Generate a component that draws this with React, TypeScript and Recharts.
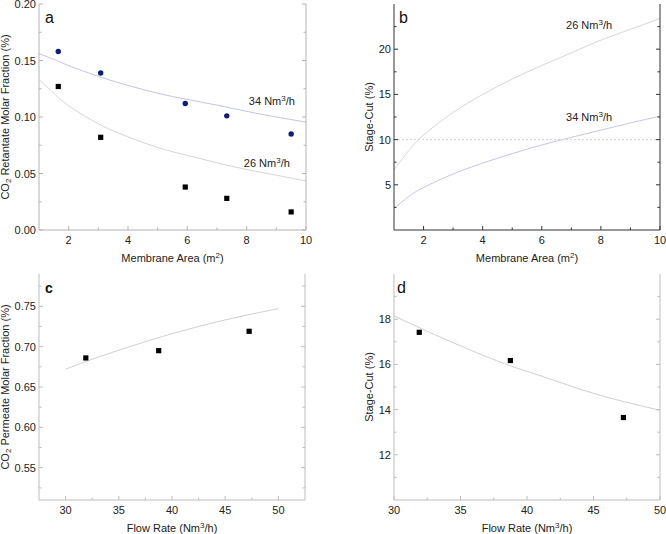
import React from 'react';
import { ComposedChart, Line, Scatter, XAxis, YAxis, ReferenceLine, ReferenceDot } from 'recharts';

const FONT = '"Liberation Sans", Arial, Helvetica, sans-serif';

// Panel a: CO2 retentate molar fraction vs membrane area
const areaMeasured = [1.65, 3.08, 5.93, 7.33, 9.5];
const retentate34 = [0.158, 0.139, 0.112, 0.101, 0.085];
const retentate26 = [0.127, 0.082, 0.038, 0.028, 0.016];
const areaModel = [1, 1.5, 2, 3, 4, 5, 6, 7, 8, 9, 10];
const retentateModel34 = [0.156, 0.151, 0.1455, 0.136, 0.128, 0.121, 0.1155, 0.1105, 0.105, 0.1, 0.0955];
const retentateModel26 = [0.133, 0.121, 0.11, 0.094, 0.0825, 0.073, 0.066, 0.0595, 0.0535, 0.0485, 0.0435];

// Panel b: stage-cut vs membrane area
const stageCutModel26 = [6.64, 8.8, 10.5, 13.0, 15.0, 16.7, 18.2, 19.6, 21.0, 22.2, 23.4];
const stageCutModel34 = [2.4, 3.7, 4.7, 6.2, 7.4, 8.45, 9.4, 10.25, 11.05, 11.85, 12.6];

// Panels c and d: flow rate dependence
const flowMeasured = [31.9, 38.75, 47.25];
const permeateMeasured = [0.686, 0.695, 0.719];
const stageCutMeasured = [17.42, 16.17, 13.65];
const flowModel = [30, 32, 35, 38, 40, 42, 45, 48, 50];
const permeateModel = [0.672, 0.682, 0.6956, 0.7082, 0.716, 0.7232, 0.7331, 0.7418, 0.747];
const stageCutFlowModel = [18.15, 17.6, 16.82, 16.1, 15.69, 15.3, 14.72, 14.25, 13.97];

// Tick values
const areaTicks = [2, 4, 6, 8, 10];
const areaMinor = [3, 5, 7, 9];
const flowTicks = [30, 35, 40, 45, 50];
const flowMinor = [32.5, 37.5, 42.5, 47.5];
const retentateTicks = [0, 0.05, 0.1, 0.15, 0.2];
const retentateMinor = [0.025, 0.075, 0.125, 0.175];
const stageCutTicks = [5, 10, 15, 20];
const stageCutMinor = [2.5, 7.5, 12.5, 17.5, 22.5];
const permeateTicks = [0.55, 0.6, 0.65, 0.7, 0.75];
const permeateMinor = [0.525, 0.575, 0.625, 0.675, 0.725, 0.775];
const stageCutFlowTicks = [12, 14, 16, 18];
const stageCutFlowMinor = [11, 13, 15, 17, 19];

const zip = (xs: number[], ys: number[]) => xs.map((x, i) => ({ x, y: ys[i] }));

type Side = 'bottom' | 'top' | 'left' | 'right';

const isIn = (list: number[], v: number) => list.some((m) => Math.abs(m - v) < 1e-9);

const makeTick = (side: Side, majors: number[], fmt: (v: number) => string, color: string) =>
  (props: any) => {
    const { x, y, payload } = props;
    const v = payload.value as number;
    const major = isIn(majors, v);
    const len = major ? 4 : 2.5;
    let line;
    let label = null;
    if (side === 'bottom') {
      line = <line x1={x} x2={x} y1={y} y2={y - len} stroke={color} />;
      if (major)
        label = (
          <text x={x} y={y + 14} textAnchor="middle" fontSize={11} fill="#222" fontFamily={FONT}>
            {fmt(v)}
          </text>
        );
    } else if (side === 'top') {
      line = <line x1={x} x2={x} y1={y} y2={y + len} stroke={color} />;
    } else if (side === 'left') {
      line = <line x1={x} x2={x + len} y1={y} y2={y} stroke={color} />;
      if (major)
        label = (
          <text x={x - 3} y={y + 4} textAnchor="end" fontSize={11} fill="#222" fontFamily={FONT}>
            {fmt(v)}
          </text>
        );
    } else {
      line = <line x1={x} x2={x - len} y1={y} y2={y} stroke={color} />;
    }
    return (
      <g>
        {line}
        {label}
      </g>
    );
  };

const rateText = (x: number, y: number, rate: string) => (
  <text x={x} y={y + 4} textAnchor="middle" fontSize={11} fill="#222" fontFamily={FONT}>
    {rate} Nm
    <tspan dy={-4} fontSize={8}>3</tspan>
    <tspan dy={4}>/h</tspan>
  </text>
);

const circleShape = (p: any) => <circle cx={p.cx} cy={p.cy} r={2.7} fill="#0b1d7e" />;
const squareShape = (p: any) => <rect x={p.cx - 2.6} y={p.cy - 2.6} width={5.2} height={5.2} fill="#000" />;

type Curve = { data: { x: number; y: number }[]; color: string };
type Points = { data: { x: number; y: number }[]; shape: (p: any) => React.ReactElement };
type Note = { x: number; y: number; rate: string };

type PanelProps = {
  left: number;
  top: number;
  width: number;
  height: number;
  yAxisWidth: number;
  rightWidth: number;
  xAxisHeight: number;
  xDomain: [number, number];
  xMajor: number[];
  xMinor: number[];
  yDomain: [number, number];
  yMajor: number[];
  yMinor: number[];
  yFmt: (v: number) => string;
  axisColor: string;
  topColor: string;
  curves: Curve[];
  points: Points[];
  notes: Note[];
  letter: string;
  letterDx: number;
  letterBold?: boolean;
  xTitle: React.ReactNode;
  yTitle: React.ReactNode;
  yTitleX: number;
  refY?: number;
};

function Panel(p: PanelProps) {
  const xTicks = [...p.xMajor, ...p.xMinor].sort((a, b) => a - b);
  const yTicks = [...p.yMajor, ...p.yMinor].sort((a, b) => a - b);
  const fmtX = (v: number) => String(v);
  return (
    <div style={{ position: 'absolute', left: p.left, top: p.top }}>
      <ComposedChart
        width={p.width}
        height={p.height}
        margin={{ top: 4, right: 0, bottom: 0, left: 0 }}
        style={{ fontFamily: FONT }}
      >
        <XAxis
          xAxisId="main"
          type="number"
          dataKey="x"
          domain={p.xDomain}
          allowDataOverflow
          ticks={xTicks}
          interval={0}
          height={p.xAxisHeight}
          tickSize={0}
          tickMargin={0}
          axisLine={{ stroke: p.axisColor }}
          tickLine={false}
          tick={makeTick('bottom', p.xMajor, fmtX, p.axisColor)}
          label={(lp: any) => {
            const vb = lp.viewBox;
            return (
              <text
                x={vb.x + vb.width / 2}
                y={vb.y + 32}
                textAnchor="middle"
                fontSize={11}
                fill="#222"
                fontFamily={FONT}
              >
                {p.xTitle}
              </text>
            );
          }}
        />
        <XAxis
          xAxisId="top"
          orientation="top"
          type="number"
          dataKey="x"
          domain={p.xDomain}
          allowDataOverflow
          ticks={xTicks}
          interval={0}
          height={0}
          tickSize={0}
          tickMargin={0}
          axisLine={{ stroke: p.topColor }}
          tickLine={false}
          tick={makeTick('top', p.xMajor, fmtX, p.topColor)}
        />
        <YAxis
          yAxisId="main"
          type="number"
          domain={p.yDomain}
          allowDataOverflow
          ticks={yTicks}
          interval={0}
          width={p.yAxisWidth}
          tickSize={0}
          tickMargin={0}
          axisLine={{ stroke: p.axisColor }}
          tickLine={false}
          tick={makeTick('left', p.yMajor, p.yFmt, p.axisColor)}
          label={(lp: any) => {
            const vb = lp.viewBox;
            const cy = vb.y + vb.height / 2;
            return (
              <text
                x={p.yTitleX}
                y={cy}
                transform={`rotate(-90, ${p.yTitleX}, ${cy})`}
                textAnchor="middle"
                dominantBaseline="central"
                fontSize={11}
                fill="#222"
                fontFamily={FONT}
              >
                {p.yTitle}
              </text>
            );
          }}
        />
        <YAxis
          yAxisId="right"
          orientation="right"
          type="number"
          domain={p.yDomain}
          allowDataOverflow
          ticks={yTicks}
          interval={0}
          width={p.rightWidth}
          tickSize={0}
          tickMargin={0}
          axisLine={{ stroke: p.axisColor }}
          tickLine={false}
          tick={makeTick('right', p.yMajor, p.yFmt, p.axisColor)}
        />
        {p.refY !== undefined && (
          <ReferenceLine
            xAxisId="main"
            yAxisId="main"
            y={p.refY}
            stroke="#d4d4d4"
            strokeDasharray="2 2"
          />
        )}
        {p.curves.map((c, i) => (
          <Line
            key={`c${i}`}
            xAxisId="main"
            yAxisId="main"
            data={c.data}
            dataKey="y"
            type="natural"
            stroke={c.color}
            strokeWidth={1}
            dot={false}
            activeDot={false}
            isAnimationActive={false}
          />
        ))}
        {p.points.map((s, i) => (
          <Scatter
            key={`s${i}`}
            xAxisId="main"
            yAxisId="main"
            data={s.data}
            dataKey="y"
            shape={s.shape}
            isAnimationActive={false}
          />
        ))}
        {p.notes.map((n, i) => (
          <ReferenceDot
            key={`n${i}`}
            xAxisId="main"
            yAxisId="main"
            x={n.x}
            y={n.y}
            r={1}
            fill="none"
            stroke="none"
            label={(lp: any) => {
              const vb = lp.viewBox;
              return rateText(vb.x + (vb.width || 0) / 2, vb.y + (vb.height || 0) / 2, n.rate);
            }}
          />
        ))}
        {/* panel letter anchored at the top-left corner of the plot area */}
        <ReferenceDot
          xAxisId="main"
          yAxisId="main"
          x={p.xDomain[0]}
          y={p.yDomain[1]}
          r={1}
          fill="none"
          stroke="none"
          ifOverflow="visible"
          label={(lp: any) => {
            const vb = lp.viewBox;
            const cx = vb.x + (vb.width || 0) / 2;
            const cy = vb.y + (vb.height || 0) / 2;
            return (
              <text
                x={cx + p.letterDx}
                y={cy + 19}
                fontSize={p.letterBold ? 14 : 16}
                fontWeight={p.letterBold ? 'bold' : 'normal'}
                fill="#111"
                fontFamily={FONT}
              >
                {p.letter}
              </text>
            );
          }}
        />
      </ComposedChart>
    </div>
  );
}

const areaTitle = (
  <>
    Membrane Area (m<tspan dy={-4} fontSize={8}>2</tspan>
    <tspan dy={4}>)</tspan>
  </>
);
const flowTitle = (
  <>
    Flow Rate (Nm<tspan dy={-4} fontSize={8}>3</tspan>
    <tspan dy={4}>/h)</tspan>
  </>
);
const co2Title = (rest: string) => (
  <>
    CO<tspan dy={3} fontSize={8}>2</tspan>
    <tspan dy={-3}> {rest}</tspan>
  </>
);

export default function App() {
  return (
    <div style={{ position: 'absolute', left: 0, top: 0, width: 666, height: 534, background: '#fff' }}>
      <Panel
        left={0}
        top={0}
        width={333}
        height={267}
        yAxisWidth={39}
        rightWidth={27}
        xAxisHeight={37}
        xDomain={[1, 10]}
        xMajor={areaTicks}
        xMinor={areaMinor}
        yDomain={[0, 0.2]}
        yMajor={retentateTicks}
        yMinor={retentateMinor}
        yFmt={(v) => v.toFixed(2)}
        axisColor="#b3b3b3"
        topColor="#b3b3b3"
        curves={[
          { data: zip(areaModel, retentateModel34), color: '#c2c5df' },
          { data: zip(areaModel, retentateModel26), color: '#d5d5dc' },
        ]}
        points={[
          { data: zip(areaMeasured, retentate34), shape: circleShape },
          { data: zip(areaMeasured, retentate26), shape: squareShape },
        ]}
        notes={[
          { x: 8.85, y: 0.114, rate: '34' },
          { x: 8.68, y: 0.0593, rate: '26' },
        ]}
        letter="a"
        letterDx={6}
        xTitle={areaTitle}
        yTitle={co2Title('Retantate Molar Fraction (%)')}
        yTitleX={5}
      />
      <Panel
        left={330}
        top={0}
        width={336}
        height={267}
        yAxisWidth={64}
        rightWidth={6}
        xAxisHeight={37}
        xDomain={[1, 10]}
        xMajor={areaTicks}
        xMinor={areaMinor}
        yDomain={[0, 25]}
        yMajor={stageCutTicks}
        yMinor={stageCutMinor}
        yFmt={(v) => String(v)}
        axisColor="#333"
        topColor="#333"
        curves={[
          { data: zip(areaModel, stageCutModel26), color: '#d6d6de' },
          { data: zip(areaModel, stageCutModel34), color: '#c6c6e6' },
        ]}
        points={[]}
        notes={[
          { x: 7.6, y: 22.67, rate: '26' },
          { x: 7.6, y: 12.5, rate: '34' },
        ]}
        letter="b"
        letterDx={5}
        xTitle={areaTitle}
        yTitle="Stage-Cut (%)"
        yTitleX={39}
        refY={10}
      />
      <Panel
        left={0}
        top={270}
        width={333}
        height={264}
        yAxisWidth={39}
        rightWidth={28}
        xAxisHeight={34}
        xDomain={[27.5, 52.5]}
        xMajor={flowTicks}
        xMinor={flowMinor}
        yDomain={[0.51, 0.79]}
        yMajor={permeateTicks}
        yMinor={permeateMinor}
        yFmt={(v) => v.toFixed(2)}
        axisColor="#bdbdbd"
        topColor="#bdbdbd"
        curves={[{ data: zip(flowModel, permeateModel), color: '#cfcfcf' }]}
        points={[{ data: zip(flowMeasured, permeateMeasured), shape: squareShape }]}
        notes={[]}
        letter="c"
        letterDx={6}
        letterBold
        xTitle={flowTitle}
        yTitle={co2Title('Permeate Molar Fraction (%)')}
        yTitleX={5}
      />
      <Panel
        left={330}
        top={270}
        width={336}
        height={264}
        yAxisWidth={64}
        rightWidth={6}
        xAxisHeight={34}
        xDomain={[30, 50]}
        xMajor={flowTicks}
        xMinor={flowMinor}
        yDomain={[10, 20]}
        yMajor={stageCutFlowTicks}
        yMinor={stageCutFlowMinor}
        yFmt={(v) => String(v)}
        axisColor="#bdbdbd"
        topColor="#bdbdbd"
        curves={[{ data: zip(flowModel, stageCutFlowModel), color: '#cfcfcf' }]}
        points={[{ data: zip(flowMeasured, stageCutMeasured), shape: squareShape }]}
        notes={[]}
        letter="d"
        letterDx={3}
        xTitle={flowTitle}
        yTitle="Stage-Cut (%)"
        yTitleX={39}
      />
    </div>
  );
}
